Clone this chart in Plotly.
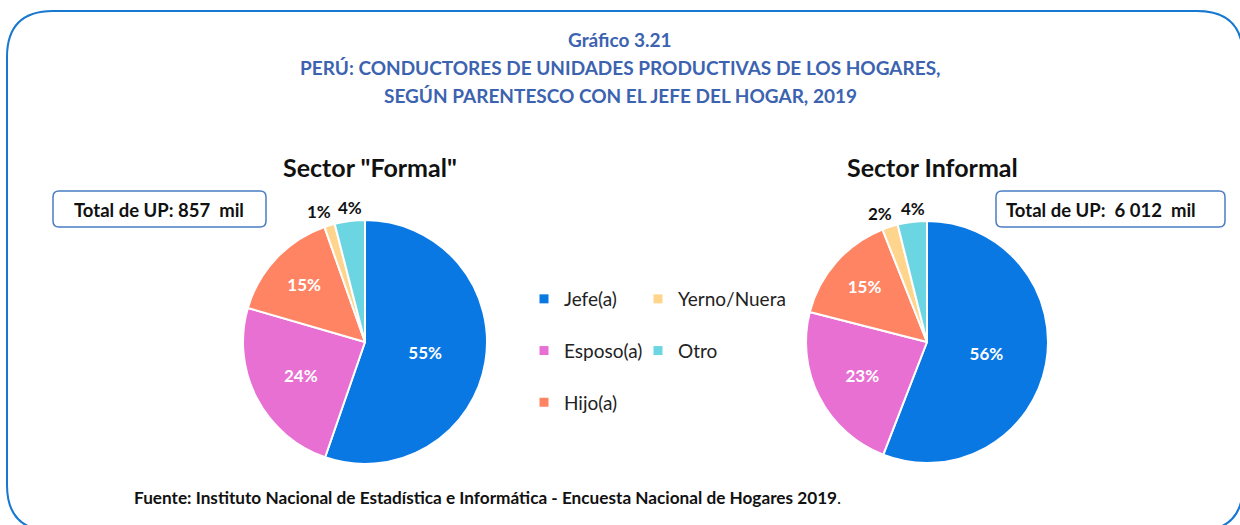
import math
import plotly.graph_objects as go

categories = ["Jefe(a)", "Esposo(a)", "Hijo(a)", "Yerno/Nuera", "Otro"]
formal_values = [55.3, 24.2, 15.1, 1.4, 4.0]
informal_values = [55.9, 23.1, 15.0, 2.1, 3.9]
colors = ["#0A78E3", "#E870D2", "#FF8464", "#FFD58D", "#6BD6E1"]
formal_title = 'Sector "Formal"'
informal_title = "Sector Informal"
formal_total = "Total de UP: 857\u00a0\u00a0mil"
informal_total = "Total de UP:\u00a0\u00a06 012\u00a0\u00a0mil"

W, H = 1240, 525
FONT = "Lato"

def px(x):
    return x / W

def py(y):
    return 1 - y / H

def pie(values, cx, cy, r):
    total = sum(values)
    pos = ["inside" if v / total >= 0.05 else "none" for v in values]
    return go.Pie(
        labels=categories, values=values, sort=False, direction="clockwise",
        rotation=0, showlegend=False,
        marker=dict(colors=colors, line=dict(color="white", width=2)),
        texttemplate="<b>%{percent:.0%}</b>", textposition=pos,
        insidetextorientation="horizontal",
        textfont=dict(family=FONT, size=17, color="white"),
        domain=dict(x=[px(cx - r), px(cx + r)], y=[py(cy + r), py(cy - r)]),
        hoverinfo="label+percent",
    )

def small_labels(values, cx, cy, r):
    total = sum(values)
    cum = 0
    out = []
    small_idx = 0
    for v in values:
        mid = (cum + v / 2) / total * 2 * math.pi
        cum += v
        if v / total < 0.05:
            R = r + 14
            out.append(dict(text=f"<b>{round(v / total * 100)}%</b>",
                            x=px(cx + R * math.sin(mid)), y=py(cy - R * math.cos(mid)),
                            xshift=-6 if small_idx == 0 else 2,
                            font=dict(size=17, color="#111111")))
            small_idx += 1
    return out

fig = go.Figure()
fig.add_trace(pie(formal_values, 365, 342, 122))
fig.add_trace(pie(informal_values, 927, 342, 121))

legend_map = {"Jefe(a)": "legend", "Esposo(a)": "legend", "Hijo(a)": "legend",
              "Yerno/Nuera": "legend2", "Otro": "legend2"}
for cat, col in zip(categories, colors):
    fig.add_trace(go.Scatter(
        x=[None], y=[None], mode="markers", name=cat,
        marker=dict(symbol="square", size=9, color=col),
        legend=legend_map[cat], legendgroup=cat, showlegend=True,
    ))

def path_px(x0, y0, x1, y1, r):
    segs = [("M", [(x0 + r, y0)]), ("L", [(x1 - r, y0)]), ("Q", [(x1, y0), (x1, y0 + r)]),
            ("L", [(x1, y1 - r)]), ("Q", [(x1, y1), (x1 - r, y1)]), ("L", [(x0 + r, y1)]),
            ("Q", [(x0, y1), (x0, y1 - r)]), ("L", [(x0, y0 + r)]), ("Q", [(x0, y0), (x0 + r, y0)])]
    out = []
    for cmd, ps in segs:
        out.append(cmd + " " + " ".join(f"{px(a):.5f},{py(b):.5f}" for a, b in ps))
    return " ".join(out) + " Z"

shapes = [
    dict(type="path", xref="paper", yref="paper", path=path_px(7, 11, 1243, 531, 46),
         line=dict(color="#1778D0", width=2), fillcolor="rgba(0,0,0,0)", layer="below"),
    dict(type="path", xref="paper", yref="paper", path=path_px(53, 191, 266, 227, 6),
         line=dict(color="#4A7DC4", width=1.5), fillcolor="rgba(0,0,0,0)"),
    dict(type="path", xref="paper", yref="paper", path=path_px(996, 191, 1225, 227, 6),
         line=dict(color="#4A7DC4", width=1.5), fillcolor="rgba(0,0,0,0)"),
]

title_col = "#3C63B0"
annotations = [
    dict(text="<b>Gráfico 3.21</b>", x=0.5, y=py(40), font=dict(size=19, color=title_col)),
    dict(text="<b>PERÚ: CONDUCTORES DE UNIDADES PRODUCTIVAS DE LOS HOGARES,</b>", x=0.5, y=py(68),
         font=dict(size=19, color=title_col)),
    dict(text="<b>SEGÚN PARENTESCO CON EL JEFE DEL HOGAR, 2019</b>", x=0.5, y=py(95),
         font=dict(size=19, color=title_col)),
    dict(text=f"<b>{formal_title}</b>", x=px(370), y=py(167), font=dict(size=25, color="#111111")),
    dict(text=f"<b>{informal_title}</b>", x=px(932), y=py(167), font=dict(size=25, color="#111111")),
    dict(text=f"<b>{formal_total}</b>", x=px(159), y=py(210), font=dict(size=18.5, color="#111111")),
    dict(text=f"<b>{informal_total}</b>", x=px(1100.5), y=py(210), font=dict(size=18.5, color="#111111")),
    dict(text="<b>Fuente: Instituto Nacional de Estadística e Informática - Encuesta Nacional de Hogares 2019</b>.",
         x=px(132), y=py(497), xanchor="left", font=dict(size=17.2, color="#111111")),
]
annotations += small_labels(formal_values, 365, 342, 122)
annotations += small_labels(informal_values, 927, 342, 121)
for a in annotations:
    a.setdefault("xanchor", "center")
    a.update(xref="paper", yref="paper", yanchor="middle", showarrow=False)

leg_common = dict(orientation="v", font=dict(family=FONT, size=19, color="#222222"),
                  tracegroupgap=24, bgcolor="rgba(0,0,0,0)", itemclick=False,
                  itemdoubleclick=False, xanchor="left", yanchor="top")
fig.update_layout(
    width=W, height=H,
    margin=dict(l=0, r=0, t=0, b=0),
    paper_bgcolor="white", plot_bgcolor="white",
    font=dict(family=FONT, color="#111111"),
    xaxis=dict(visible=False), yaxis=dict(visible=False),
    shapes=shapes, annotations=annotations,
    legend=dict(x=px(524), y=py(280), **leg_common),
    legend2=dict(x=px(638), y=py(280), **leg_common),
)

fig.write_html("out.html", config={"displayModeBar": False},
               post_script="document.body.style.margin='0';")
